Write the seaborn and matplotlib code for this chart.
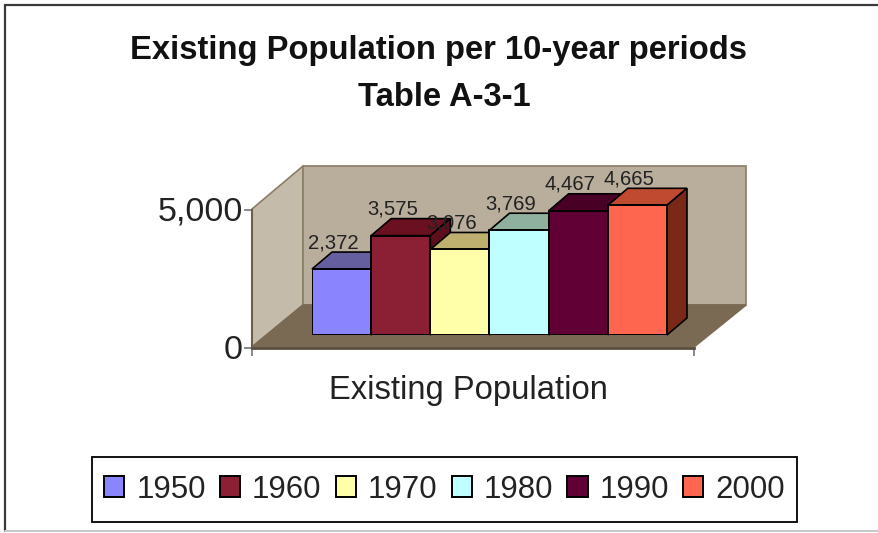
import matplotlib
matplotlib.use('Agg')
import matplotlib.pyplot as plt
from matplotlib.patches import Polygon, Rectangle
from matplotlib.ticker import FuncFormatter
from matplotlib.transforms import ScaledTranslation
import pandas as pd
import seaborn as sns

# data
years = ['1950', '1960', '1970', '1980', '1990', '2000']
population = [2372, 3575, 3076, 3769, 4467, 4665]
series_label = 'Existing Population'
title_lines = ['Existing Population per 10-year periods', 'Table A-3-1']

# colours: front, top, side of each bar
fronts = ['#8A85FF', '#8B2035', '#FFFFAA', '#BFFFFF', '#600034', '#FF6650']
tops = ['#665F9F', '#6B1020', '#BFB070', '#8FAF9F', '#480025', '#BF4A30']
sides = ['#4F4A80', '#5E0F1C', '#99905A', '#7A9F9F', '#3A001E', '#7A2818']

W, H = 879, 533

sns.set_theme(style='white')
plt.rcParams['font.family'] = ['Liberation Sans', 'DejaVu Sans']

fig = plt.figure(figsize=(W / 100, H / 100), dpi=100)


def px_axes(left, top, right, bottom, z):
    a = fig.add_axes([left / W, 1 - bottom / H, (right - left) / W, (bottom - top) / H])
    a.set_zorder(z)
    a.patch.set_alpha(0)
    return a


# page frame, walls and floor, drawn in pixel coordinates
bg = px_axes(0, 0, W, H, 0)
bg.set_xlim(0, W)
bg.set_ylim(H, 0)
bg.axis('off')
bg.plot([5, 5, W], [531, 5, 5], color='#3A3A3A', lw=1.6, solid_joinstyle='miter')
bg.plot([5, W], [531, 531], color='#C8C8C8', lw=1.4)
edge = '#8B7D66'
bg.add_patch(Polygon([(252, 209), (303, 166), (303, 305), (252, 347)], fc='#C5BBAA', ec=edge, lw=1.2))
bg.add_patch(Polygon([(303, 166), (746, 166), (746, 305), (303, 305)], fc='#B9AD9C', ec=edge, lw=1.2))
bg.add_patch(Polygon([(252, 347), (303, 305), (746, 305), (694, 347)], fc='#7B6A53', ec='#7B6A53', lw=1.2))
bg.add_patch(Rectangle((92, 457), 705, 65, fc='white', ec='black', lw=1.3))

# value axis on the front corner of the box
front = px_axes(252, 210, 694, 348, 1)
front.set_ylim(0, 5000)
front.set_xlim(0, 1)
front.set_xticks([0, 1], labels=['', ''])
front.set_yticks([0, 5000])
front.yaxis.set_major_formatter(FuncFormatter(lambda v, _: f'{int(v):,}'))
front.tick_params(axis='y', labelsize=24.5, length=5.5, width=1.2, color='#777777', labelcolor='#222222', pad=1, left=True)
front.tick_params(axis='x', length=5.5, width=1.2, color='#777777', bottom=True, pad=0)
sns.despine(ax=front)
front.spines['left'].set_color('#6B5F4E')
front.spines['left'].set_linewidth(1.5)
front.spines['bottom'].set_color('#5A4E3E')
front.spines['bottom'].set_linewidth(2)
front.set_xlabel(series_label, fontsize=23.6, color='#222222')
front.xaxis.set_label_coords(216.5 / 442, -42 / 138, transform=front.transAxes)
front.xaxis.label.set_va('center')
for t in front.get_yticklabels():
    t.set_transform(t.get_transform() + ScaledTranslation(0, 1 / 72, fig.dpi_scale_trans))

# the bars
ax = px_axes(312, 335 - 139, 667, 335, 2)
df = pd.DataFrame({'year': years, 'population': population})
sns.barplot(data=df, x='year', y='population', hue='year', palette=fronts, saturation=1, width=1,
            dodge=False, edgecolor='black', linewidth=1.4, legend=True, ax=ax)
ax.set_xlim(-0.5, 5.5)
ax.set_ylim(0, 5000)
ax.axis('off')

# depth of the box, in data units
dx = 20 / 59.2
dy = 17 / 0.0278
for i, cont in enumerate(ax.containers):
    for bar in cont:
        x0, x1 = bar.get_x(), bar.get_x() + bar.get_width()
        h = bar.get_height()
        bar.set_zorder(3 + 2 * i)
        ax.add_patch(Polygon([(x0, h), (x0 + dx, h + dy), (x1 + dx, h + dy), (x1, h)], fc=tops[i],
                             ec='black', lw=1.2, clip_on=False, zorder=2 + 2 * i))
        ax.add_patch(Polygon([(x1, 0), (x1 + dx, dy), (x1 + dx, h + dy), (x1, h)], fc=sides[i],
                             ec='black', lw=1.2, clip_on=False, zorder=2 + 2 * i))
        ax.annotate(f'{int(h):,}', (x0 + 0.5, h), xytext=(-6, 19), textcoords='offset points',
                    ha='center', va='center', fontsize=14.6, color='#222222', zorder=40, annotation_clip=False)

sns.move_legend(ax, loc='center', bbox_to_anchor=(444.5 / W, 1 - 489.5 / H), bbox_transform=fig.transFigure,
                ncol=6, title=None, fontsize=22.5, frameon=False,
                handlelength=0.65, handleheight=0.65, handletextpad=0.38,
                columnspacing=0.45, borderpad=0.45, borderaxespad=0)
ax.get_legend().set_zorder(50)
for t in ax.get_legend().get_texts():
    t.set_color('#222222')

# the two title lines are not centred on the same x in the original
for line, cx, cy in zip(title_lines, [438.5, 444], [50, 98]):
    fig.text(cx / W, 1 - cy / H, line, ha='center', va='center', fontsize=23.6,
             fontweight='bold', color='#111111')

fig.savefig('out.png', dpi=100)
